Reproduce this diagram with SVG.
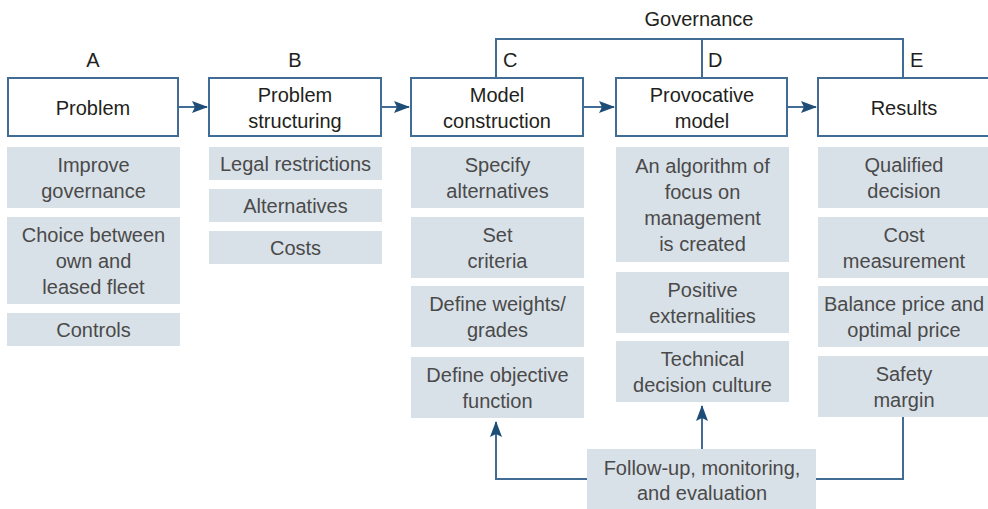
<svg xmlns="http://www.w3.org/2000/svg" width="988" height="509" viewBox="0 0 988 509">
<style>
.bg{fill:#ffffff}
.head rect{fill:#ffffff;stroke:#416c95;stroke-width:2}
.item rect{fill:#d9e1e8}
text{font-family:"Liberation Sans",Arial,sans-serif;font-size:20px;text-anchor:middle}
.t{fill:#231f20}
.g{fill:#4a4a4a}
.lbl{fill:#231f20}
.st{text-anchor:start}
.conn path{fill:none;stroke:#416c95;stroke-width:2}
</style>
<defs>
<marker id="arr" markerWidth="16" markerHeight="12" viewBox="0 0 16 12" refX="15" refY="6" orient="auto" markerUnits="userSpaceOnUse">
<path d="M0,0 L16,6 L0,12 L3,6 Z" fill="#1e4d78"/>
</marker>
</defs>
<rect class="bg" x="0" y="0" width="988" height="509"/>

<text class="lbl" x="699" y="26">Governance</text>
<text class="lbl" x="93" y="67">A</text>
<text class="lbl" x="295" y="67">B</text>
<text class="lbl st" x="503" y="67">C</text>
<text class="lbl st" x="708" y="67">D</text>
<text class="lbl st" x="910" y="67">E</text>

<g class="conn" id="connectors">
<path d="M496,78 V39 H903 V78"/>
<path d="M702,39 V78"/>
<path d="M178,107 H207" marker-end="url(#arr)"/>
<path d="M381,107 H409" marker-end="url(#arr)"/>
<path d="M583,107 H614" marker-end="url(#arr)"/>
<path d="M787,107 H816" marker-end="url(#arr)"/>
<path d="M588,479 H496 V422" marker-end="url(#arr)"/>
<path d="M702,449 V406" marker-end="url(#arr)"/>
<path d="M816,479 H903 V417"/>
</g>

<g class="head" id="nodeA"><rect x="8" y="78" width="170" height="58"/><text class="t" x="93" y="115">Problem</text></g>
<g class="head" id="nodeB"><rect x="209" y="78" width="172" height="58"/><text class="t" x="295" y="101.5">Problem</text><text class="t" x="295" y="127.5">structuring</text></g>
<g class="head" id="nodeC"><rect x="411" y="78" width="172" height="58"/><text class="t" x="497" y="101.5">Model</text><text class="t" x="497" y="127.5">construction</text></g>
<g class="head" id="nodeD"><rect x="616" y="78" width="171" height="58"/><text class="t" x="702" y="101.5">Provocative</text><text class="t" x="702" y="127.5">model</text></g>
<g class="head" id="nodeE"><rect x="818" y="78" width="190" height="58"/><text class="t" x="904" y="115">Results</text></g>

<g class="item" id="a1"><rect x="7" y="147" width="173" height="61"/><text class="g" x="93.5" y="172">Improve</text><text class="g" x="93.5" y="198">governance</text></g>
<g class="item" id="a2"><rect x="7" y="217" width="173" height="87"/><text class="g" x="93.5" y="242">Choice between</text><text class="g" x="93.5" y="268">own and</text><text class="g" x="93.5" y="294">leased fleet</text></g>
<g class="item" id="a3"><rect x="7" y="313" width="173" height="33"/><text class="g" x="93.5" y="337">Controls</text></g>

<g class="item" id="b1"><rect x="209" y="147" width="173" height="33"/><text class="g" x="295.5" y="171">Legal restrictions</text></g>
<g class="item" id="b2"><rect x="209" y="189" width="173" height="33"/><text class="g" x="295.5" y="213">Alternatives</text></g>
<g class="item" id="b3"><rect x="209" y="231" width="173" height="33"/><text class="g" x="295.5" y="255">Costs</text></g>

<g class="item" id="c1"><rect x="411" y="147" width="173" height="61"/><text class="g" x="497.5" y="172">Specify</text><text class="g" x="497.5" y="198">alternatives</text></g>
<g class="item" id="c2"><rect x="411" y="217" width="173" height="61"/><text class="g" x="497.5" y="242">Set</text><text class="g" x="497.5" y="268">criteria</text></g>
<g class="item" id="c3"><rect x="411" y="286" width="173" height="61"/><text class="g" x="497.5" y="311">Define weights/</text><text class="g" x="497.5" y="337">grades</text></g>
<g class="item" id="c4"><rect x="411" y="357" width="173" height="61"/><text class="g" x="497.5" y="382">Define objective</text><text class="g" x="497.5" y="408">function</text></g>

<g class="item" id="d1"><rect x="616" y="147" width="173" height="115"/><text class="g" x="702.5" y="173">An algorithm of</text><text class="g" x="702.5" y="199">focus on</text><text class="g" x="702.5" y="225">management</text><text class="g" x="702.5" y="251">is created</text></g>
<g class="item" id="d2"><rect x="616" y="272" width="173" height="61"/><text class="g" x="702.5" y="297">Positive</text><text class="g" x="702.5" y="323">externalities</text></g>
<g class="item" id="d3"><rect x="616" y="341" width="173" height="61"/><text class="g" x="702.5" y="366">Technical</text><text class="g" x="702.5" y="392">decision culture</text></g>

<g class="item" id="e1"><rect x="818" y="147" width="180" height="61"/><text class="g" x="904" y="172">Qualified</text><text class="g" x="904" y="198">decision</text></g>
<g class="item" id="e2"><rect x="818" y="217" width="180" height="61"/><text class="g" x="904" y="242">Cost</text><text class="g" x="904" y="268">measurement</text></g>
<g class="item" id="e3"><rect x="818" y="286" width="180" height="61"/><text class="g" x="904" y="311">Balance price and</text><text class="g" x="904" y="337">optimal price</text></g>
<g class="item" id="e4"><rect x="818" y="356" width="180" height="61"/><text class="g" x="904" y="381">Safety</text><text class="g" x="904" y="407">margin</text></g>

<g class="item" id="followup"><rect x="587" y="449" width="229" height="60"/><text class="g" x="702" y="474.5">Follow-up, monitoring,</text><text class="g" x="702" y="500">and evaluation</text></g>
</svg>
